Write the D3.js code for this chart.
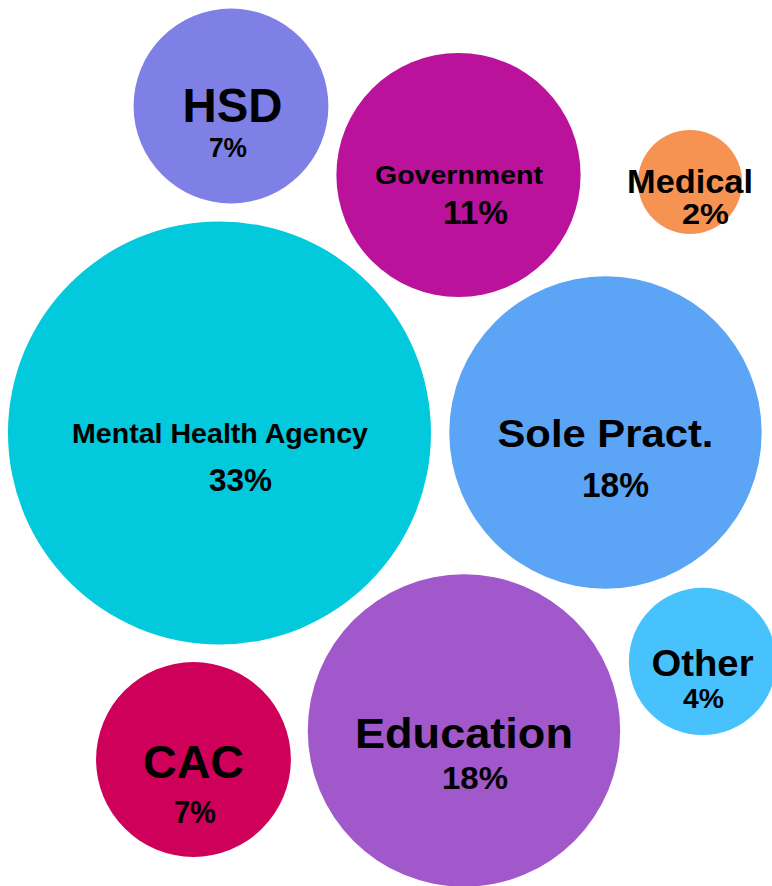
<!DOCTYPE html>
<html lang="en">
<head>
<meta charset="utf-8">
<title>Work setting</title>
<script src="https://cdn.jsdelivr.net/npm/d3@7"></script>
<style>
  html, body { margin: 0; padding: 0; background: #ffffff; }
  svg { display: block; }
  text { font-family: "Liberation Sans", Arial, sans-serif; font-weight: 700; fill: #000000; }
</style>
</head>
<body>
<div id="chart"></div>
<script>
// Share of respondents by work setting (percent)
const categories = ["HSD", "Government", "Medical", "Mental Health Agency", "Sole Pract.", "Other", "Education", "CAC"];
const shares = [7, 11, 2, 33, 18, 4, 18, 7];

// Bubble fills, one per category
const palette = ["#7e80e6", "#ba129b", "#f69352", "#02c9db", "#5ba4f6", "#48c2fc", "#a058ca", "#cf005a"];

// Placement of each bubble on a unit grid, plus label offsets and type sizes
const layout = {
  "HSD":                  { u: 0.2992, v: 0.1196, name: { dx: 1.5, dy: 16,   size: 48, w: 100 }, val: { dx: -3,  dy: 51.5, size: 28, w: 38 } },
  "Government":           { u: 0.5939, v: 0.1975, name: { dx: 0.5, dy: 9,    size: 25, w: 168 }, val: { dx: 17,  dy: 49,   size: 33, w: 65 } },
  "Medical":              { u: 0.8938, v: 0.2054, name: { dx: 0,   dy: 11,   size: 33, w: 126 }, val: { dx: 15.5, dy: 42,  size: 29, w: 47 } },
  "Mental Health Agency": { u: 0.2843, v: 0.4887, name: { dx: 0.5, dy: 10,   size: 28, w: 296 }, val: { dx: 21,  dy: 58,   size: 32, w: 63 } },
  "Sole Pract.":          { u: 0.7843, v: 0.4881, name: { dx: 0,   dy: 14.5, size: 39, w: 216 }, val: { dx: 10,  dy: 64.5, size: 35, w: 67 } },
  "Other":                { u: 0.9100, v: 0.7466, name: { dx: 0,   dy: 14.5, size: 36, w: 102 }, val: { dx: 1,   dy: 46.5, size: 28, w: 41 } },
  "Education":            { u: 0.6010, v: 0.8245, name: { dx: 0,   dy: 17.5, size: 42, w: 218 }, val: { dx: 11,  dy: 58.5, size: 32, w: 66 } },
  "CAC":                  { u: 0.2506, v: 0.8572, name: { dx: 0,   dy: 18.5, size: 47, w: 101 }, val: { dx: 1.5, dy: 63.5, size: 32, w: 42 } }
};

const width = 772, height = 886;

const data = categories.map((c, i) => ({ category: c, share: shares[i], color: palette[i] }));

const x = d3.scaleLinear().domain([0, 1]).range([0, width]);
const y = d3.scaleLinear().domain([0, 1]).range([0, height]);
const r = d3.scaleSqrt().domain([0, d3.max(shares)]).range([0, 211.5]);
const fmt = d => `${d}%`;

const svg = d3.select("#chart").append("svg")
  .attr("width", width)
  .attr("height", height)
  .attr("viewBox", `0 0 ${width} ${height}`);

const bubble = svg.selectAll("g.bubble")
  .data(data)
  .join("g")
  .attr("class", "bubble")
  .attr("transform", d => `translate(${x(layout[d.category].u)},${y(layout[d.category].v)})`);

bubble.append("circle")
  .attr("r", d => r(d.share))
  .attr("fill", d => d.color);

// Each bubble carries one two-line label: the category name over its share
const label = bubble.append("text")
  .attr("class", "label")
  .attr("text-anchor", "middle");

label.append("tspan")
  .attr("class", "name")
  .attr("x", d => layout[d.category].name.dx)
  .attr("y", d => layout[d.category].name.dy)
  .attr("font-size", d => layout[d.category].name.size)
  .attr("textLength", d => layout[d.category].name.w)
  .attr("lengthAdjust", "spacingAndGlyphs")
  .text(d => d.category);

label.append("tspan")
  .attr("class", "value")
  .attr("x", d => layout[d.category].val.dx)
  .attr("y", d => layout[d.category].val.dy)
  .attr("font-size", d => layout[d.category].val.size)
  .attr("textLength", d => layout[d.category].val.w)
  .attr("lengthAdjust", "spacingAndGlyphs")
  .text(d => fmt(d.share));
</script>
</body>
</html>
